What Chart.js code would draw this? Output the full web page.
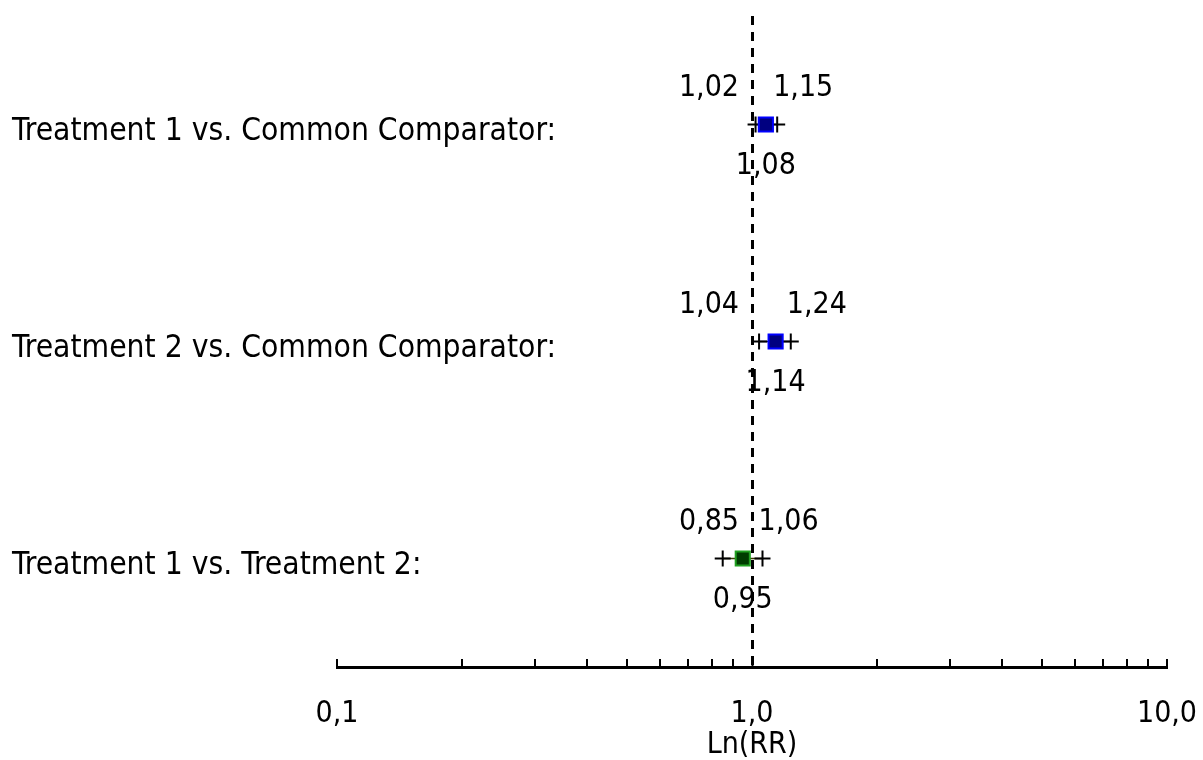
<!DOCTYPE html>
<html>
<head>
<meta charset="utf-8">
<script src="https://cdn.jsdelivr.net/npm/chart.js@4.4.1/dist/chart.umd.min.js"></script>
<style>
  html, body { margin: 0; padding: 0; background: #fff; }
  canvas { display: block; }
</style>
</head>
<body>
<canvas id="forest" width="1203" height="760"></canvas>
<script>
const comparisons = [
  'Treatment 1 vs. Common Comparator:',
  'Treatment 2 vs. Common Comparator:',
  'Treatment 1 vs. Treatment 2:'
];
const estimates = [1.08, 1.14, 0.95];
const lowerCI = [1.02, 1.04, 0.85];
const upperCI = [1.15, 1.24, 1.06];

const tickValues = [0.1, 0.2, 0.3, 0.4, 0.5, 0.6, 0.7, 0.8, 0.9, 1, 2, 3, 4, 5, 6, 7, 8, 9, 10];
const tickLabels = ['0,1', '', '', '', '', '', '', '', '', '1,0', '', '', '', '', '', '', '', '', '10,0'];

const markerFill = ['#000080', '#000080', '#003c00'];
const markerEdge = ['#0000ff', '#0000ff', '#20a020'];
const barColor = ['#00005a', '#00005a', '#3a3a00'];

const FONT = "'DejaVu Sans Condensed', 'DejaVu Sans', sans-serif";
const fmt = v => v.toFixed(2).replace('.', ',');

Chart.defaults.font.family = FONT;
Chart.defaults.font.size = 30;
Chart.defaults.color = '#000';

// ---- error bars: line between CI ends, "+" at each end ----
const barSets = comparisons.map((c, i) => ({
  type: 'line',
  data: [{ x: lowerCI[i], y: c }, { x: upperCI[i], y: c }],
  borderColor: barColor[i],
  borderWidth: 1.5,
  pointStyle: 'cross',
  pointRadius: 8,
  pointBorderWidth: 2,
  pointBorderColor: '#000',
  pointBackgroundColor: '#000',
  order: 2
}));

// ---- point estimates ----
const pointSet = {
  type: 'scatter',
  data: comparisons.map((c, i) => ({ x: estimates[i], y: c })),
  pointStyle: 'rect',
  pointRadius: 10,
  pointBorderWidth: 2,
  pointBackgroundColor: markerFill,
  pointBorderColor: markerEdge,
  order: 1
};

// ---- row names and the numbers around each estimate ----
const textLayer = {
  id: 'textLayer',
  afterDatasetsDraw(chart) {
    const { ctx, scales: { x, y } } = chart;
    const ref = x.getPixelForValue(1);
    ctx.save();
    ctx.fillStyle = '#000';
    ctx.textBaseline = 'alphabetic';
    comparisons.forEach((c, i) => {
      const py = y.getPixelForValue(i);
      ctx.font = '31.5px ' + FONT;
      ctx.textAlign = 'left';
      ctx.fillText(c, y.left, py + 15);
      ctx.font = '30px ' + FONT;
      ctx.textAlign = 'right';
      ctx.fillText(fmt(lowerCI[i]), ref - 13, py - 29);
      ctx.textAlign = 'left';
      ctx.fillText(fmt(upperCI[i]), x.getPixelForValue(upperCI[i]) - 4, py - 29);
      ctx.textAlign = 'center';
      ctx.fillText(fmt(estimates[i]), x.getPixelForValue(estimates[i]), py + 49);
    });
    ctx.restore();
  }
};

new Chart(document.getElementById('forest'), {
  data: { datasets: [...barSets, pointSet] },
  options: {
    responsive: false,
    animation: false,
    layout: { autoPadding: false, padding: { left: 12, right: 36, top: 16, bottom: 0 } },
    plugins: { legend: { display: false }, tooltip: { enabled: false } },
    scales: {
      x: {
        type: 'logarithmic',
        min: 0.1,
        max: 10,
        afterBuildTicks: s => { s.ticks = tickValues.map(v => ({ value: v })); },
        afterFit: s => { s.height = 93; s.paddingLeft = 0; s.paddingRight = 0; },
        ticks: {
          autoSkip: false,
          maxRotation: 0,
          padding: 37,
          callback: (v, i) => tickLabels[i]
        },
        grid: {
          drawOnChartArea: true,
          color: c => (c.tick && c.tick.value === 1 ? '#000' : 'rgba(0,0,0,0)'),
          lineWidth: c => (c.tick && c.tick.value === 1 ? 3 : 0),
          drawTicks: true,
          tickLength: -8,
          tickColor: '#000',
          tickWidth: 2,
          tickBorderDash: []
        },
        border: { display: true, color: '#000', width: 3, dash: [9, 7] },
        title: {
          display: true,
          text: 'Ln(RR)',
          font: { size: 30, lineHeight: 1 },
          padding: 0
        }
      },
      y: {
        type: 'category',
        labels: comparisons,
        offset: true,
        afterFit: s => { s.width = 325; s.paddingTop = 0; s.paddingBottom = 0; },
        grid: { display: false },
        border: { display: false },
        ticks: { display: false }
      }
    }
  },
  plugins: [textLayer]
});
</script>
</body>
</html>
